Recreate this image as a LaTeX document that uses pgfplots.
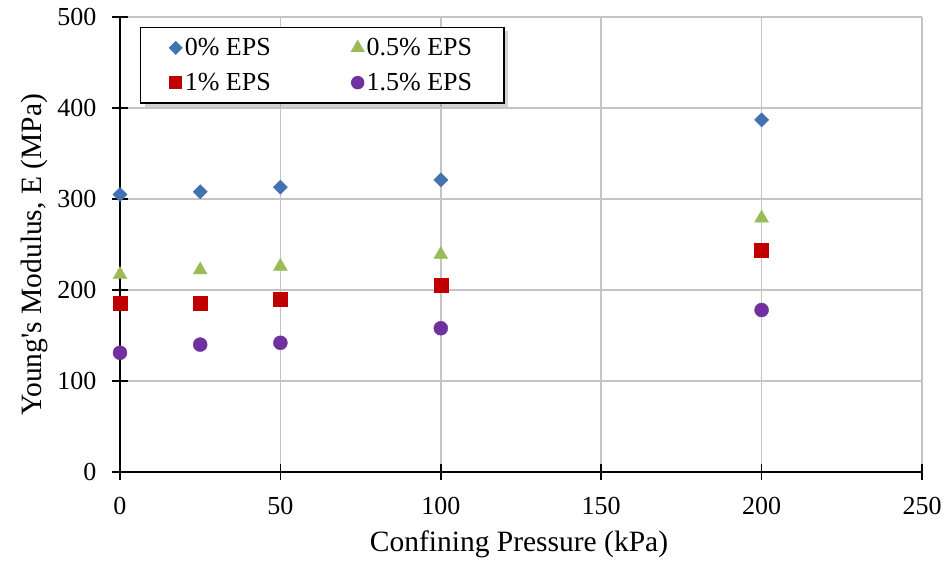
\documentclass[border=0pt]{standalone}
\usepackage{pgfplots}
\pgfplotsset{compat=1.18}
\usepackage{fontspec}
\setmainfont{Liberation Serif}[Ligatures=TeXOff]
\usetikzlibrary{shadows}
\definecolor{cblue}{RGB}{68,114,176}
\definecolor{cgreen}{RGB}{155,187,89}
\definecolor{cred}{RGB}{192,0,0}
\definecolor{cpurple}{RGB}{112,48,160}
\pgfplotsset{mylegimg/.style={legend image code/.code={\draw[mark repeat=2,mark phase=2,##1,every mark/.append style={scale=0.85}] plot coordinates {(0pt,0pt)(6pt,0pt)(12pt,0pt)};}}}
\begin{document}
\begin{tikzpicture}
\useasboundingbox (-120pt,-91pt) rectangle (826pt,472pt);
\begin{axis}[
  scale only axis, width=802pt, height=455pt,
  xmin=0, xmax=250, ymin=0, ymax=500,
  xtick={0,50,...,250}, ytick={0,100,...,500},
  grid=major, major grid style={draw=black!23, line width=1.5pt},
  axis x line*=bottom, axis y line*=left,
  axis line style={black, line width=2pt, -},
  tick style={black, line width=1.5pt},
  major tick length=16pt,
  xtick align=center, ytick align=center,
  /pgf/number format/assume math mode=true,
  ticklabel style={font=\fontsize{26}{30}\selectfont},
  xticklabel style={yshift=-14pt},
  yticklabel style={xshift=-12pt},
  label style={font=\fontsize{29.5}{33}\selectfont},
  xlabel={Confining Pressure (kPa)},
  ylabel={Young's Modulus, E (MPa)},
  xlabel style={at={(axis description cs:0.4975,-0.1758)}, anchor=base},
  ylabel style={at={(axis description cs:-0.0985,0.477)}, anchor=base},
  legend columns=2,
  legend style={at={(20pt,445.3pt)}, anchor=north west, draw=black, line width=1.5pt,
    fill=white, drop shadow={shadow xshift=4pt, shadow yshift=-4pt, opacity=0.35},
    font=\fontsize{26}{30}\selectfont, inner xsep=29pt, inner ysep=9pt,
    nodes={inner xsep=3pt},
    /tikz/every even column/.append style={column sep=78pt},
    row sep=12pt},
  legend cell align=left,
  clip=false,
]
\addplot[only marks, mylegimg, mark=square*, mark options={rotate=45, fill=cblue, draw=cblue}, mark size=5pt]
  coordinates {(0,305) (25,308) (50,313) (100,321) (200,387)};
\addlegendentry{0\% EPS}
\addplot[only marks, mylegimg, mark=triangle*, mark options={fill=cgreen, draw=cgreen}, mark size=8pt]
  coordinates {(0,217) (25,222) (50,226) (100,239) (200,279)};
\addlegendentry{0.5\% EPS}
\addplot[only marks, mylegimg, mark=square*, mark options={fill=cred, draw=cred}, mark size=7pt]
  coordinates {(0,186) (25,186) (50,190) (100,205) (200,244)};
\addlegendentry{1\% EPS}
\addplot[only marks, mylegimg, mark=*, mark options={fill=cpurple, draw=cpurple}, mark size=7pt]
  coordinates {(0,131) (25,140) (50,142) (100,158) (200,178)};
\addlegendentry{1.5\% EPS}
\end{axis}
\end{tikzpicture}
\end{document}
